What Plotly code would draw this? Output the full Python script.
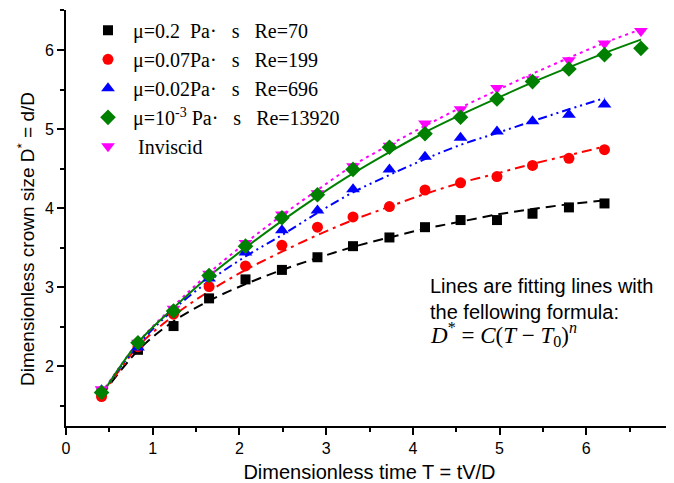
import plotly.graph_objects as go

# Dimensionless time of the measured points
T = [0.41, 0.83, 1.24, 1.65, 2.07, 2.49, 2.90, 3.31, 3.73, 4.14, 4.55, 4.97, 5.38, 5.80, 6.21, 6.63]

d_re70 = [1.67, 2.21, 2.51, 2.86, 3.10, 3.22, 3.38, 3.52, 3.63, 3.76, 3.85, 3.85, 3.93, 4.01, 4.06]
d_re199 = [1.62, 2.25, 2.66, 3.01, 3.27, 3.53, 3.76, 3.89, 4.02, 4.23, 4.32, 4.40, 4.54, 4.63, 4.74]
d_re696 = [1.70, 2.24, 2.71, 3.11, 3.44, 3.72, 3.97, 4.24, 4.49, 4.65, 4.89, 4.97, 5.10, 5.18, 5.31]
d_re13920 = [1.67, 2.30, 2.70, 3.15, 3.52, 3.88, 4.17, 4.49, 4.77, 4.94, 5.15, 5.38, 5.60, 5.76, 5.94, 6.02]
d_inviscid = [1.71, 2.30, 2.73, 3.17, 3.56, 3.92, 4.19, 4.53, 4.79, 5.07, 5.25, 5.52, 5.63, 5.87, 6.08, 6.24]

# fitted curves D* = C(T-T0)^n, values at the same T
fit_re70 = [1.63, 2.20, 2.57, 2.83, 3.04, 3.22, 3.37, 3.51, 3.63, 3.74, 3.83, 3.92, 3.99, 4.05, 4.10]
fit_re199 = [1.62, 2.25, 2.64, 2.95, 3.22, 3.45, 3.66, 3.85, 4.02, 4.18, 4.32, 4.44, 4.56, 4.67, 4.78]
fit_re696 = [1.66, 2.27, 2.72, 3.08, 3.39, 3.66, 3.94, 4.20, 4.42, 4.62, 4.80, 4.95, 5.10, 5.25, 5.39]
fit_re13920 = [1.64, 2.30, 2.74, 3.14, 3.50, 3.84, 4.15, 4.44, 4.71, 4.96, 5.18, 5.39, 5.59, 5.78, 5.96, 6.13]
fit_inviscid = [1.66, 2.30, 2.76, 3.18, 3.56, 3.91, 4.23, 4.54, 4.80, 5.04, 5.27, 5.49, 5.70, 5.90, 6.09, 6.26]

nb = "\u00a0"
labels = [
    "μ=0.2" + nb * 2 + "Pa·" + nb * 3 + "s" + nb * 3 + "Re=70",
    "μ=0.07Pa·" + nb * 3 + "s" + nb * 3 + "Re=199",
    "μ=0.02Pa·" + nb * 3 + "s" + nb * 3 + "Re=696",
    "μ=10<sup>-3</sup>" + nb + "Pa·" + nb * 3 + "s" + nb * 3 + "Re=13920",
    nb + "Inviscid",
]

series = [
    # (points, fit, colour, symbol, size, dash, legend position)
    (d_re70, fit_re70, "black", "square", 10, "10px,6px", 0),
    (d_re199, fit_re199, "red", "circle", 11, "10px,5px,3px,5px", 1),
    (d_re696, fit_re696, "blue", "triangle-up", 12, "9px,4px,2px,4px,2px,4px", 2),
    (d_inviscid, fit_inviscid, "magenta", "triangle-down", 12, "3px,4px", 4),
    (d_re13920, fit_re13920, "green", "diamond", 12, "solid", 3),
]

fig = go.Figure()

# fit lines first
for pts, fit, col, sym, sz, dash, k in series:
    fig.add_trace(go.Scatter(
        x=T[:len(fit)], y=fit, mode="lines",
        line=dict(color=col, width=2, dash=dash, shape="spline", smoothing=1.0),
        showlegend=False, hoverinfo="skip"
    ))

# then the measured points
for pts, fit, col, sym, sz, dash, k in series:
    fig.add_trace(go.Scatter(
        x=T[:len(pts)], y=pts, mode="markers",
        marker=dict(color=col, symbol=sym, size=sz, line=dict(width=0)),
        name=labels[k], legendrank=k + 1, legendgroup=str(k)
    ))

tick_font = dict(family="Liberation Sans, Arial", size=16, color="black")
title_font = dict(family="Liberation Sans, Arial", size=20, color="black")

# page body adds an 8px offset, margins compensate for it
fig.update_layout(
    width=674, height=483,
    margin=dict(l=58, r=9, t=2, b=65),
    plot_bgcolor="white", paper_bgcolor="white",
    showlegend=True,
    legend=dict(
        x=0.028, y=0.998, xanchor="left", yanchor="top",
        bgcolor="rgba(0,0,0,0)", tracegroupgap=0, itemwidth=40,
        font=dict(family="Liberation Serif, Times New Roman", size=20, color="black"),
    ),
    xaxis=dict(
        range=[0, 7], dtick=1, tick0=0,
        showline=True, linecolor="black", linewidth=2,
        ticks="outside", ticklen=7, tickwidth=1.5, tickcolor="black",
        minor=dict(dtick=0.5, ticks="outside", ticklen=4, tickwidth=1.5, tickcolor="black"),
        showgrid=False, zeroline=False, tickfont=tick_font,
        title=dict(text="Dimensionless time T = tV/D", font=title_font, standoff=9),
    ),
    yaxis=dict(
        range=[1.247, 6.505], dtick=1, tick0=0,
        showline=True, linecolor="black", linewidth=2,
        ticks="outside", ticklen=7, tickwidth=1.5, tickcolor="black",
        minor=dict(dtick=0.5, ticks="outside", ticklen=4, tickwidth=1.5, tickcolor="black"),
        showgrid=False, zeroline=False, tickfont=tick_font,
    ),
)

# y axis title sits a bit below the middle of the axis in the original
fig.add_annotation(
    x=(18 - 58) / 607, y=1 - (231 - 2) / 416, xref="paper", yref="paper",
    xanchor="center", yanchor="middle", textangle=-90, showarrow=False,
    text="Dimensionless crown size D<sup>*</sup> = d/D",
    font=dict(family="Liberation Sans, Arial", size=19, color="black"),
)

fig.add_annotation(
    x=(420 - 58) / 607, y=1 - (265 - 2) / 416, xref="paper", yref="paper",
    xanchor="left", yanchor="top", align="left", showarrow=False,
    text="Lines are fitting lines with<br>the fellowing formula:",
    font=dict(family="Liberation Sans, Arial", size=20, color="black"),
)
fig.add_annotation(
    x=(420 - 58) / 607, y=1 - (309 - 2) / 416, xref="paper", yref="paper",
    xanchor="left", yanchor="top", align="left", showarrow=False,
    text="<i>D</i><sup>*</sup> = <i>C</i>(<i>T</i> − <i>T</i><sub>0</sub>)<sup><i>n</i></sup>",
    font=dict(family="Liberation Serif, Times New Roman", size=23, color="black"),
)

fig.write_html("out.html")
